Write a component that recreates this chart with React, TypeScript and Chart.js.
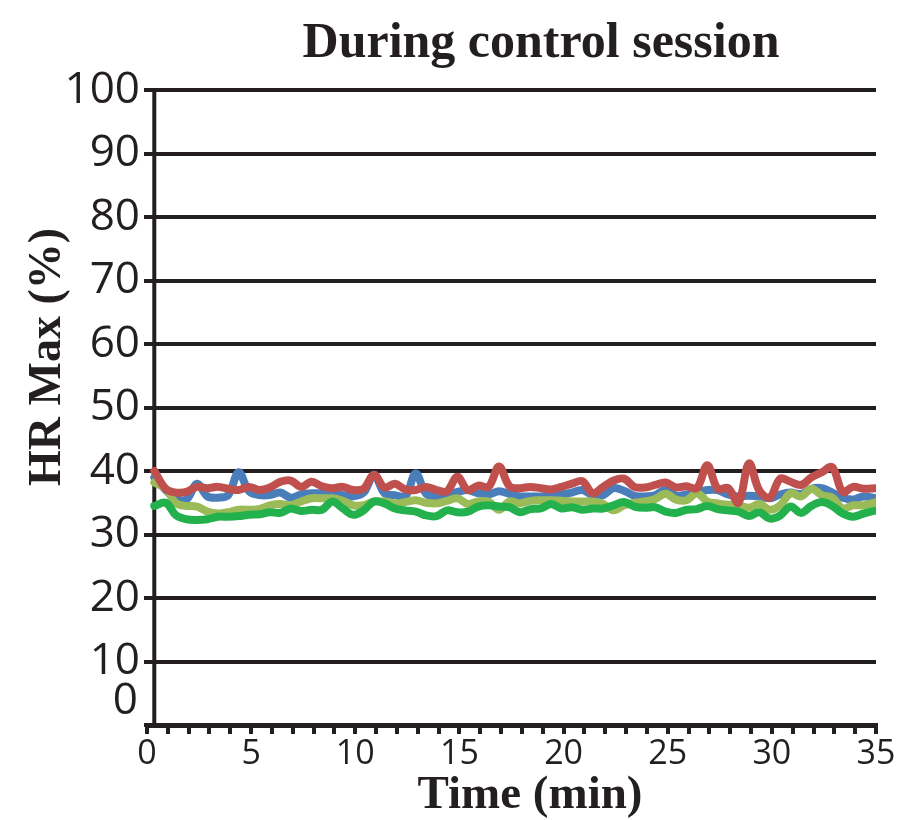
import React, { useEffect, useRef } from "react";
import { Chart, registerables } from "chart.js";

Chart.register(...registerables);

// ---- data ----
const times = [
  0.35, 0.9, 1.4, 1.9, 2.4, 2.9, 3.4, 3.9, 4.4, 4.9,
  5.4, 5.9, 6.4, 6.9, 7.4, 7.9, 8.4, 8.9, 9.4, 9.9,
  10.4, 10.9, 11.4, 11.9, 12.4, 12.9, 13.4, 13.9, 14.4, 14.9,
  15.4, 15.9, 16.4, 16.9, 17.4, 17.9, 18.4, 18.9, 19.4, 19.9,
  20.4, 20.9, 21.4, 21.9, 22.4, 22.9, 23.4, 23.9, 24.4, 24.9,
  25.4, 25.9, 26.4, 26.9, 27.4, 27.9, 28.4, 28.9, 29.4, 29.9,
  30.4, 30.9, 31.4, 31.9, 32.4, 32.9, 33.4, 33.9, 34.4, 35.0,
];

const redSeries = [
  40.0, 37.2, 36.6, 36.7, 37.5, 37.3, 37.5, 37.2, 37.0, 37.5,
  37.0, 37.4, 38.3, 38.5, 37.5, 38.3, 37.6, 37.3, 37.5, 37.0,
  37.2, 39.4, 37.4, 38.0, 37.1, 37.0, 37.5, 37.0, 36.8, 39.1,
  37.0, 37.7, 37.5, 40.7, 37.6, 37.3, 37.5, 37.3, 37.1, 37.5,
  38.0, 38.4, 36.5, 37.5, 38.5, 38.8, 37.5, 37.4, 37.8, 38.2,
  37.4, 37.6, 37.3, 40.9, 37.2, 37.3, 35.0, 41.2, 36.9, 35.8,
  38.8, 38.3, 37.8, 39.0, 39.8, 40.6, 36.7, 37.5, 37.2, 37.3,
];

const blueSeries = [
  39.0, 37.0, 35.6, 35.5, 38.0, 36.0, 35.8, 36.2, 39.8, 36.8,
  36.2, 36.2, 36.6, 35.8, 36.3, 36.5, 36.5, 36.5, 36.2, 36.0,
  36.6, 39.4, 36.5, 36.2, 36.0, 39.6, 36.4, 36.0, 36.2, 36.7,
  37.0, 36.5, 36.3, 36.8, 36.4, 36.0, 36.0, 36.0, 36.1, 36.3,
  36.6, 37.0, 36.2, 36.2, 37.3, 36.9, 36.1, 36.0, 36.2, 37.0,
  36.1, 36.3, 36.6, 37.0, 37.0, 36.3, 36.0, 36.1, 36.0, 35.7,
  36.3, 36.6, 36.4, 37.2, 37.3, 36.6, 35.8, 35.5, 36.0, 35.7,
];

const oliveSeries = [
  38.2, 37.2, 34.9, 34.5, 34.4, 33.6, 33.3, 33.5, 33.9, 33.9,
  34.0, 34.6, 34.8, 34.6, 35.2, 35.7, 35.7, 35.7, 35.3, 34.6,
  34.6, 35.2, 35.2, 34.9, 35.1, 35.4, 35.0, 34.9, 35.3, 35.7,
  34.8, 35.2, 35.2, 33.9, 35.2, 34.9, 35.3, 35.4, 35.4, 35.3,
  35.2, 35.2, 35.2, 34.8, 33.8, 34.6, 35.0, 35.2, 35.6, 36.4,
  35.5, 35.4, 36.5, 35.2, 34.9, 34.7, 34.6, 34.2, 34.8, 33.9,
  34.6, 36.5, 36.0, 37.2, 36.2, 35.8, 34.1, 34.6, 34.6, 35.1,
];

const greenSeries = [
  34.5, 35.0, 33.0, 32.4, 32.3, 32.4, 32.8, 32.8, 32.9, 33.1,
  33.2, 33.5, 33.4, 34.1, 33.7, 33.9, 33.9, 35.2, 34.1, 33.1,
  33.8, 35.2, 34.9, 34.1, 33.8, 33.6, 33.0, 32.9, 33.8, 33.5,
  33.6, 34.4, 34.6, 34.4, 34.3, 33.5, 34.0, 34.1, 34.8, 34.1,
  34.3, 33.9, 34.1, 34.1, 34.6, 35.1, 34.4, 34.2, 34.3, 33.6,
  33.4, 33.9, 34.0, 34.5, 34.0, 33.8, 33.6, 32.9, 33.5, 32.5,
  33.0, 34.4, 33.4, 34.5, 35.1, 34.5, 33.3, 32.8, 33.3, 33.8,
];

const xMin = 0;
const xMax = 35;
const xStep = 1;
const xLabelEvery = 5;
const yMin = 0;
const yMax = 100;
const yStep = 10;
const yAxisAtX = 0.35;

const titleText = "During control session";
const xTitleText = "Time (min)";
const yTitleText = "HR Max (%)";

const INK = "#231F20";
const SERIF = '"Liberation Serif", "Times New Roman", serif';
const SANS = '"Open Sans", "Noto Sans", sans-serif';

export default function App() {
  const ref = useRef<HTMLCanvasElement | null>(null);

  useEffect(() => {
    if (!ref.current) return;
    const pts = (vals: number[]) => times.map((t, i) => ({ x: t, y: vals[i] }));

    const decor = {
      id: "decor",
      beforeDatasetsDraw(chart: any) {
        const ctx = chart.ctx;
        const a = chart.chartArea;
        const xs = chart.scales.x;
        const px = xs.getPixelForValue(yAxisAtX);
        ctx.save();
        ctx.strokeStyle = INK;
        ctx.lineWidth = 4;
        ctx.beginPath();
        ctx.moveTo(px, a.top - 2);
        ctx.lineTo(px, a.bottom);
        ctx.stroke();
        ctx.restore();
      },
      afterDraw(chart: any) {
        const ctx = chart.ctx;
        const ys = chart.scales.y;
        ctx.save();
        ctx.fillStyle = INK;
        // the "0" label of the y axis sits raised above the x axis
        ctx.textAlign = "right";
        ctx.textBaseline = "middle";
        ctx.font = `44px ${SANS}`;
        ctx.fillText(String(yMin), ys.right - 9, ys.getPixelForValue(yMin) - 24);

        ctx.textAlign = "center";
        ctx.textBaseline = "alphabetic";
        ctx.font = `bold 50px ${SERIF}`;
        ctx.fillText(titleText, 541, 57);
        ctx.font = `bold 47px ${SERIF}`;
        ctx.fillText(xTitleText, 530, 808);
        ctx.translate(60, 357);
        ctx.rotate(-Math.PI / 2);
        ctx.font = `bold 46px ${SERIF}`;
        ctx.fillText(yTitleText, 0, 0);
        ctx.restore();
      },
    };

    const common = {
      borderWidth: 8,
      pointRadius: 0,
      tension: 0.35,
      fill: false,
      borderJoinStyle: "round" as const,
      borderCapStyle: "round" as const,
    };

    const chart = new Chart(ref.current, {
      type: "line",
      data: {
        datasets: [
          { ...common, label: "green", data: pts(greenSeries), borderColor: "#22B14C" },
          { ...common, label: "red", data: pts(redSeries), borderColor: "#C0504D" },
          { ...common, label: "olive", data: pts(oliveSeries), borderColor: "#9BBB59" },
          { ...common, label: "blue", data: pts(blueSeries), borderColor: "#4A7EBB" },
        ],
      },
      options: {
        animation: false,
        responsive: false,
        events: [],
        layout: { padding: { top: 90, right: 32, left: 0, bottom: 0 } },
        plugins: { legend: { display: false }, tooltip: { enabled: false }, title: { display: false } },
        scales: {
          x: {
            type: "linear",
            min: xMin,
            max: xMax,
            afterFit: (s: any) => {
              s.height = 95;
            },
            ticks: {
              stepSize: xStep,
              autoSkip: false,
              maxRotation: 0,
              padding: 0,
              color: INK,
              font: { family: SANS, size: 34 },
              callback: (v: any) => (Number(v) % xLabelEvery === 0 ? String(v) : ""),
            },
            grid: { drawOnChartArea: false, drawTicks: true, tickLength: 9, lineWidth: 4, color: INK },
            border: { display: true, width: 5, color: INK },
          },
          y: {
            min: yMin,
            max: yMax,
            afterFit: (s: any) => {
              s.width = 147;
            },
            ticks: {
              stepSize: yStep,
              padding: 4,
              color: INK,
              font: { family: SANS, size: 44 },
              callback: (v: any) => (Number(v) === yMin ? "" : String(v)),
            },
            grid: { color: INK, lineWidth: 4, drawTicks: true, tickLength: 3 },
            border: { display: false },
          },
        },
      },
      plugins: [decor],
    });
    return () => chart.destroy();
  }, []);

  return (
    <div style={{ position: "absolute", left: 0, top: 0, width: 908, height: 820, background: "#fff" }}>
      <canvas ref={ref} width={908} height={820} style={{ display: "block" }} />
    </div>
  );
}
